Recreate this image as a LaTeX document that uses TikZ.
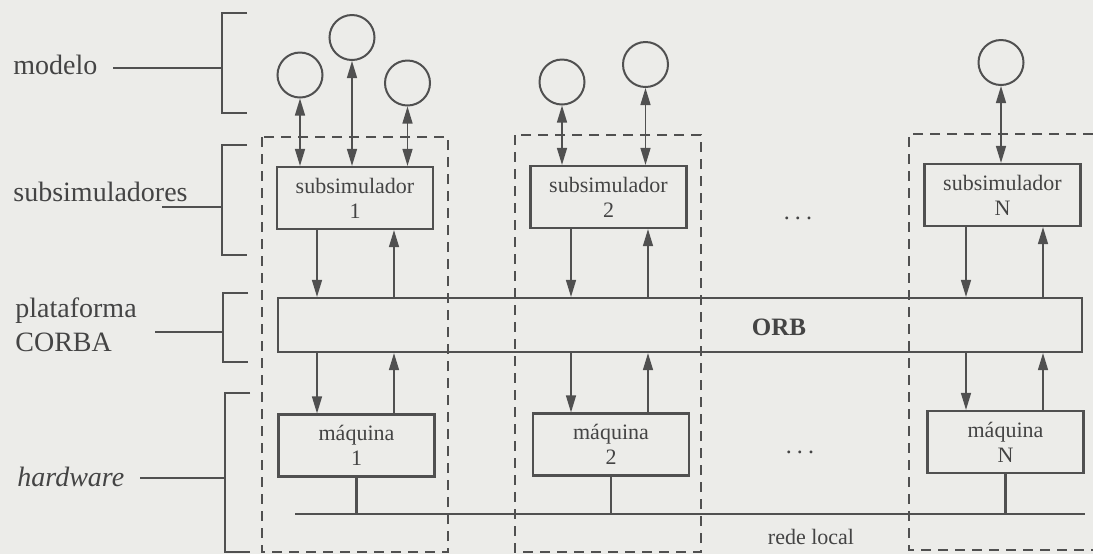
\documentclass[tikz,border=0pt]{standalone}
\usepackage{fontspec}
\setmainfont{Liberation Serif}
\usetikzlibrary{arrows.meta}
\definecolor{bg}{RGB}{236,236,233}
\definecolor{ink}{RGB}{80,80,80}
\definecolor{txt}{RGB}{68,68,68}
\begin{document}
\begin{tikzpicture}[x=0.5pt,y=-0.5pt,
  box/.style={draw=ink,line width=1.1pt,minimum width=78pt,minimum height=31pt,inner sep=0pt,align=center,font=\fontsize{11}{12.5}\selectfont,text=txt},
  mdl/.style={draw=ink,line width=1pt,circle,minimum size=22.5pt,inner sep=0pt},
  biarr/.style={draw=ink,line width=0.7pt,{Triangle[length=8.5pt,width=5pt]}-{Triangle[length=8.5pt,width=5pt]}},
  arr/.style={draw=ink,line width=0.7pt,-{Triangle[length=8.5pt,width=5pt]}},
  frame/.style={draw=ink,line width=0.75pt,dash pattern=on 5pt off 3.5pt},
  brk/.style={draw=ink,line width=0.8pt},
  lan/.style={draw=ink,line width=1.1pt},
  lbl/.style={anchor=west,inner sep=0pt,font=\fontsize{14}{17}\selectfont,text=txt,align=left},
  small/.style={inner sep=0pt,font=\fontsize{11}{12.5}\selectfont,text=txt},
]
\fill[bg] (0,0) rectangle (1093,554);
\useasboundingbox (0,0) rectangle (1093,554);

% group frames
\draw[frame] (262,137) rectangle (448,552);
\draw[frame] (515,135) rectangle (701,552);
\draw[frame] (1093,134) -- (909,134) -- (909,550) -- (1093,550);

% subsimulators
\node[box] (sub1) at (355,198) {subsimulador\\1};
\node[box] (sub2) at (608.5,197) {subsimulador\\2};
\node[box] (subN) at (1002.5,195) {subsimulador\\N};

% ORB
\node[box,minimum width=402pt,minimum height=27pt] (orb) at (680,325) {};
\node[small,font=\fontsize{12.5}{14}\selectfont\bfseries] (orbt) at (779,327) {ORB};

% machines
\node[box] (m1) at (356.5,445.5) {máquina\\1};
\node[box] (m2) at (611,444.5) {máquina\\2};
\node[box] (mN) at (1005.5,442) {máquina\\N};

% model circles
\node[mdl] (c11) at (300,75) {};
\node[mdl] (c12) at (352,37.5) {};
\node[mdl] (c13) at (407.5,83) {};
\node[mdl] (c21) at (562,82) {};
\node[mdl] (c22) at (645.5,64.5) {};
\node[mdl] (cN) at (1001,62.5) {};

\draw[biarr] (c11.south) -- (c11.south |- sub1.north);
\draw[biarr] (c12.south) -- (c12.south |- sub1.north);
\draw[biarr] (c13.south) -- (c13.south |- sub1.north);
\draw[biarr] (c21.south) -- (c21.south |- sub2.north);
\draw[biarr] (c22.south) -- (c22.south |- sub2.north);
\draw[biarr] (cN.south) -- (cN.south |- subN.north);

% arrow columns
\coordinate (a1) at (317,0);  \coordinate (b1) at (394,0);
\coordinate (a2) at (571,0);  \coordinate (b2) at (648,0);
\coordinate (aN) at (966,0);  \coordinate (bN) at (1043,0);

\draw[arr] (sub1.south -| a1) -- (orb.north -| a1);
\draw[arr] (orb.north -| b1) -- (sub1.south -| b1);
\draw[arr] (sub2.south -| a2) -- (orb.north -| a2);
\draw[arr] (orb.north -| b2) -- (sub2.south -| b2);
\draw[arr] (subN.south -| aN) -- (orb.north -| aN);
\draw[arr] (orb.north -| bN) -- (subN.south -| bN);

\draw[arr] (orb.south -| a1) -- (m1.north -| a1);
\draw[arr] (m1.north -| b1) -- (orb.south -| b1);
\draw[arr] (orb.south -| a2) -- (m2.north -| a2);
\draw[arr] (m2.north -| b2) -- (orb.south -| b2);
\draw[arr] (orb.south -| aN) -- (mN.north -| aN);
\draw[arr] (mN.north -| bN) -- (orb.south -| bN);

% local network
\coordinate (lanW) at (295,514);
\coordinate (lanE) at (1085,514);
\draw[lan] (lanW) -- (lanE);
\draw[lan] (m1.south) -- (m1.south |- lanW);
\draw[lan] (m2.south) -- (m2.south |- lanW);
\draw[lan] (mN.south) -- (mN.south |- lanW);
\node[small] (rede) at (811,537) {rede local};

% ellipses
\node[small,anchor=base,font=\fontsize{12}{13}\selectfont] (dots1) at (798,219) {.\hspace{2.6pt}.\hspace{2.6pt}.};
\node[small,anchor=base,font=\fontsize{12}{13}\selectfont] (dots2) at (800,453) {.\hspace{2.6pt}.\hspace{2.6pt}.};

% layer labels and brackets
\node[lbl] (lmod) at (13,65) {modelo};
\draw[brk] (247,13) -- (222,13) -- (222,113) -- (247,113);
\coordinate (pmod) at (113,68);
\draw[brk] (pmod) -- (222,68);

\node[lbl] (lsub) at (13,192) {subsimuladores};
\draw[brk] (247,145) -- (222,145) -- (222,255) -- (247,255);
\coordinate (psub) at (162,207);
\draw[brk] (psub) -- (222,207);

\node[lbl] (lcor) at (15,325) {plataforma\\CORBA};
\draw[brk] (248,293) -- (223,293) -- (223,362) -- (248,362);
\coordinate (pcor) at (155,332);
\draw[brk] (pcor) -- (223,332);

\node[lbl] (lhw) at (17,477) {\itshape hardware};
\draw[brk] (250,393) -- (225,393) -- (225,552) -- (250,552);
\coordinate (phw) at (140,478);
\draw[brk] (phw) -- (225,478);
\end{tikzpicture}
\end{document}
